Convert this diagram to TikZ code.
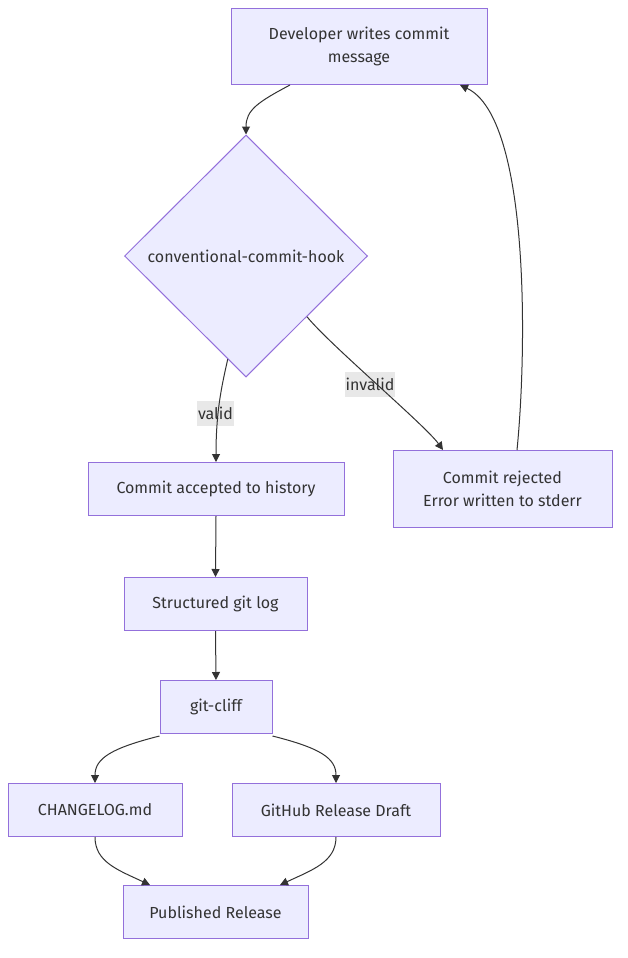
\documentclass[tikz,border=0pt]{standalone}
\usepackage{fontspec}
\setmainfont{Fira Sans}
\usetikzlibrary{shapes.geometric,arrows.meta,calc}
\definecolor{nodefill}{HTML}{ECECFF}
\definecolor{nodeline}{HTML}{9370DB}
\definecolor{edgecol}{HTML}{333333}
\definecolor{labelbg}{HTML}{E8E8E8}
\definecolor{txt}{HTML}{333333}
\begin{document}
\begin{tikzpicture}[x=1pt,y=-1pt,
  box/.style={draw=nodeline,fill=nodefill,line width=1pt,inner sep=0pt,
    text=txt,align=center,font=\fontsize{16}{23}\selectfont},
  dia/.style={diamond,draw=nodeline,fill=nodefill,line width=1pt,inner sep=0pt,
    aspect=1,minimum width=243pt,minimum height=242pt,text=txt,font=\fontsize{16}{23}\selectfont},
  edge/.style={draw=edgecol,line width=1pt,-{Triangle[length=8pt,width=8pt]}},
  elabel/.style={fill=labelbg,text=txt,inner xsep=1pt,inner ysep=0pt,minimum height=25pt,font=\fontsize{16}{18}\selectfont}]
\useasboundingbox (0,0) rectangle (628,958);
\fill[white] (0,0) rectangle (628,958);
\node[box,minimum width=256pt,minimum height=76pt] (A) at (359,46.5) {Developer writes commit\\message};
\node[dia] (D) at (246,256) {conventional-commit-hook};
\node[box,minimum width=256pt,minimum height=53pt] (B) at (216,489) {Commit accepted to history};
\node[box,minimum width=219pt,minimum height=77pt] (R) at (502.5,489) {Commit rejected\\Error written to stderr};
\node[box,minimum width=183pt,minimum height=53pt] (S) at (215.5,604) {Structured git log};
\node[box,minimum width=112pt,minimum height=53pt] (G) at (216,707) {git-cliff};
\node[box,minimum width=174pt,minimum height=53pt] (C) at (95,810) {CHANGELOG.md};
\node[box,minimum width=208pt,minimum height=53pt] (H) at (336,810) {GitHub Release Draft};
\node[box,minimum width=185pt,minimum height=53pt] (P) at (215.5,912) {Published Release};

\node[elabel] (lv) at (215.5,413.5) {valid};
\node[elabel] (li) at (370,384) {invalid};

\draw[edge] ([xshift=-69pt]A.south) .. controls (258,102) and (246,110) .. (D.north);
\draw[edge] ($(D.south)!0.15!(D.west)$) .. controls (222,385) and (216,410) .. (B.north);
\draw[edge] ($(D.south)!0.5!(D.east)$) .. controls (330,345) and (425,425) .. ([xshift=-59.5pt]R.north);
\draw[edge] ([xshift=14.5pt]R.north) .. controls (527,350) and (530,118) .. ([xshift=101pt]A.south);
\draw[edge] (B.south) -- (S.north);
\draw[edge] (S.south) -- (G.north);
\draw[edge] ([yshift=-2pt]G.south west) .. controls (112,748) and (95,758) .. (C.north);
\draw[edge] ([yshift=-2pt]G.south east) .. controls (320,748) and (336,758) .. (H.north);
\draw[edge] (C.south) .. controls (95,862) and (118,870) .. ([xshift=-65.5pt]P.north);
\draw[edge] (H.south) .. controls (336,862) and (312,870) .. ([xshift=64.5pt]P.north);
\end{tikzpicture}
\end{document}
